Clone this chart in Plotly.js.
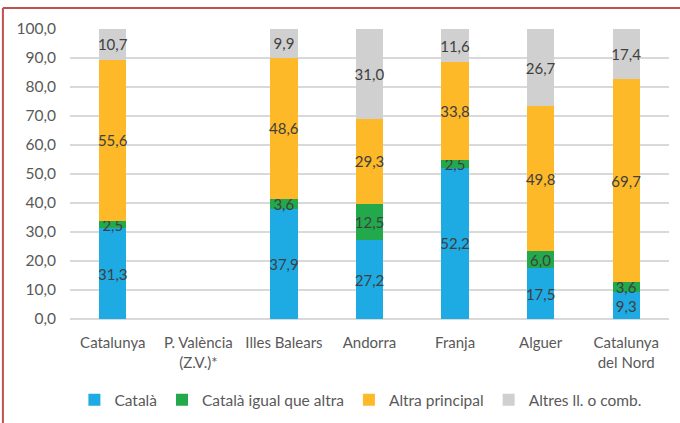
<!DOCTYPE html>
<html>
<head>
<meta charset="utf-8">
<script src="https://cdn.plot.ly/plotly-3.0.1.min.js"></script>
<style>
html,body{margin:0;padding:0;background:#fff;}
#chart{width:680px;height:423px;}
</style>
</head>
<body>
<div id="chart"></div>
<script>
var categories = ["Catalunya", "P. València<br>(Z.V.)*", "Illes Balears", "Andorra", "Franja", "Alguer", "Catalunya<br>del Nord"];
var seriesNames = ["Català", "Català igual que altra", "Altra principal", "Altres ll. o comb."];
var catala      = [31.3, null, 37.9, 27.2, 52.2, 17.5, 9.3];
var catalaIgual = [2.5,  null, 3.6,  12.5, 2.5,  6.0,  3.6];
var altraPrinc  = [55.6, null, 48.6, 29.3, 33.8, 49.8, 69.7];
var altres      = [10.7, null, 9.9,  31.0, 11.6, 26.7, 17.4];
var yTicks = [0, 10, 20, 30, 40, 50, 60, 70, 80, 90, 100];

var colors = ["#1eaae2", "#22a94c", "#fdb927", "#d0d0d0"];
var values = [catala, catalaIgual, altraPrinc, altres];

var font = "Lato, Open Sans, sans-serif";
var traces = values.map(function(v, i){
  return {
    type: "bar",
    name: seriesNames[i],
    x: categories,
    y: v,
    marker: {color: colors[i]},
    texttemplate: "%{y:.1f}",
    textposition: "inside",
    insidetextanchor: "middle",
    textangle: 0,
    textfont: {family: font, size: 15, color: "#404040"},
    hoverinfo: "skip"
  };
});

var layout = {
  width: 680, height: 423,
  barmode: "stack",
  bargap: 0.68,
  separators: ",.",
  margin: {l: 70, r: 11, t: 29, b: 104},
  paper_bgcolor: "#ffffff",
  plot_bgcolor: "#ffffff",
  font: {family: font, size: 15, color: "#595959"},
  uniformtext: {mode: "show", minsize: 15},
  xaxis: {
    type: "category", automargin: false,
    tickfont: {family: font, size: 15, color: "#595959"},
    showline: false, ticks: "", showgrid: false, zeroline: false,
    ticklabelstandoff: 13
  },
  yaxis: {
    range: [0, 100], automargin: false,
    tickvals: yTicks,
    tickformat: ".1f",
    tickfont: {family: font, size: 15.5, color: "#595959"},
    gridcolor: "#d9d9d9", gridwidth: 1.5,
    zeroline: true, zerolinecolor: "#d9d9d9", zerolinewidth: 1.5,
    ticks: "", ticklen: 0, showline: false,
    ticklabelstandoff: 13
  },
  legend: {
    orientation: "h", xref: "container", yref: "container",
    x: 0.53, xanchor: "center", y: 0.054, yanchor: "middle",
    font: {family: font, size: 15.5, color: "#595959"},
    traceorder: "normal", itemclick: false, itemwidth: 30
  },
  shapes: [
    {type: "line", xref: "paper", yref: "paper", x0: -0.112, x1: 1.1, y0: 1.072, y1: 1.072, line: {color: "#c0504d", width: 2}},
    {type: "line", xref: "paper", yref: "paper", x0: -0.112, x1: -0.112, y0: 1.072, y1: -0.4, line: {color: "#c0504d", width: 2}}
  ]
};

Plotly.newPlot("chart", traces, layout, {displayModeBar: false, staticPlot: true});
</script>
</body>
</html>
